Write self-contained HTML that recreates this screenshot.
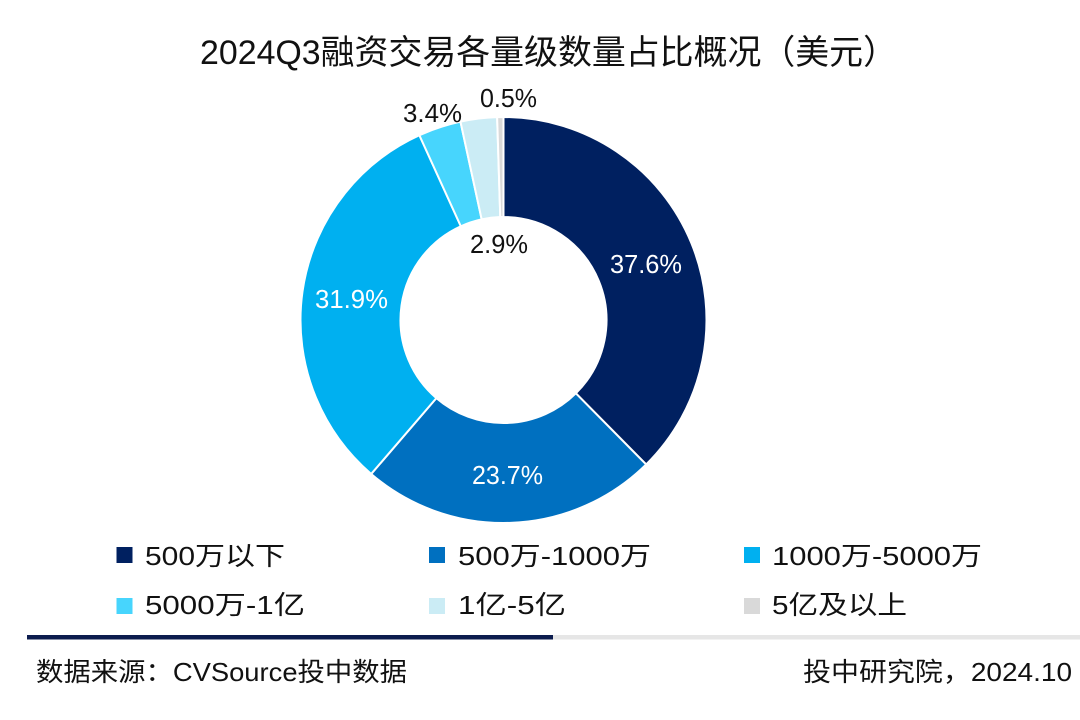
<!DOCTYPE html>
<html><head><meta charset="utf-8"><style>
html,body{margin:0;padding:0;background:#fff;}
svg{display:block;}
text{font-family:"Liberation Sans","Noto Sans CJK SC",sans-serif;}
</style></head><body>
<svg width="1080" height="720" viewBox="0 0 1080 720" xmlns="http://www.w3.org/2000/svg">
<rect width="1080" height="720" fill="#fff"/>
<text x="200" y="64" font-size="34" fill="#111" textLength="697" lengthAdjust="spacingAndGlyphs">2024Q3融资交易各量级数量占比概况（美元）</text>

<g stroke="#fff" stroke-width="2" stroke-linejoin="round">
<path d="M503.5,117 A203,203 0 0 1 646.15,464.43 L575.88,393.28 A103,103 0 0 0 503.5,217 Z" fill="#002060"/>
<path d="M646.15,464.43 A203,203 0 0 1 371.18,473.96 L436.36,398.12 A103,103 0 0 0 575.88,393.28 Z" fill="#0070C0"/>
<path d="M371.18,473.96 A203,203 0 0 1 419.38,135.25 L460.82,226.26 A103,103 0 0 0 436.36,398.12 Z" fill="#00B0F0"/>
<path d="M419.38,135.25 A203,203 0 0 1 460.46,121.61 L481.66,219.34 A103,103 0 0 0 460.82,226.26 Z" fill="#47D5FD"/>
<path d="M460.46,121.61 A203,203 0 0 1 497.13,117.10 L500.27,217.05 A103,103 0 0 0 481.66,219.34 Z" fill="#CBECF5"/>
<path d="M497.13,117.10 A203,203 0 0 1 503.5,117 L503.5,217 A103,103 0 0 0 500.27,217.05 Z" fill="#D9D9D9"/>
</g>

<g font-size="26">
<text x="610" y="273" fill="#fff" textLength="72" lengthAdjust="spacingAndGlyphs">37.6%</text>
<text x="472" y="484" fill="#fff" textLength="71" lengthAdjust="spacingAndGlyphs">23.7%</text>
<text x="315" y="308" fill="#fff" textLength="73" lengthAdjust="spacingAndGlyphs">31.9%</text>
<text x="470" y="253" fill="#111" textLength="58" lengthAdjust="spacingAndGlyphs">2.9%</text>
<text x="403" y="122" fill="#111" textLength="59" lengthAdjust="spacingAndGlyphs">3.4%</text>
<text x="480" y="107" fill="#111" textLength="57" lengthAdjust="spacingAndGlyphs">0.5%</text>
</g>

<rect x="116.5" y="547" width="16" height="16" fill="#002060"/>
<rect x="429" y="547" width="16" height="16" fill="#0070C0"/>
<rect x="744" y="547" width="16" height="16" fill="#00B0F0"/>
<rect x="116.5" y="598" width="16" height="16" fill="#47D5FD"/>
<rect x="429" y="598" width="16" height="16" fill="#CBECF5"/>
<rect x="744" y="598" width="16" height="16" fill="#D9D9D9"/>
<g font-size="26" fill="#111">
<text x="145" y="565" textLength="140" lengthAdjust="spacingAndGlyphs">500万以下</text>
<text x="458" y="565" textLength="193" lengthAdjust="spacingAndGlyphs">500万-1000万</text>
<text x="772" y="565" textLength="210" lengthAdjust="spacingAndGlyphs">1000万-5000万</text>
<text x="145" y="614" textLength="160" lengthAdjust="spacingAndGlyphs">5000万-1亿</text>
<text x="458" y="614" textLength="108" lengthAdjust="spacingAndGlyphs">1亿-5亿</text>
<text x="772" y="614" textLength="135" lengthAdjust="spacingAndGlyphs">5亿及以上</text>
</g>

<rect x="27" y="635" width="526" height="4.5" fill="#0C1C4E"/>
<rect x="553" y="635" width="527" height="4.5" fill="#E6E6E6"/>

<g font-size="26" fill="#111">
<text x="36" y="681" textLength="371" lengthAdjust="spacingAndGlyphs">数据来源：CVSource投中数据</text>
<text x="803" y="681" textLength="269" lengthAdjust="spacingAndGlyphs">投中研究院，2024.10</text>
</g>
</svg>
</body></html>
